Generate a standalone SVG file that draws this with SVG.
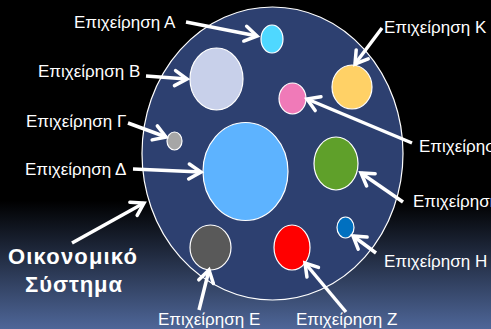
<svg xmlns="http://www.w3.org/2000/svg" width="491" height="329" viewBox="0 0 491 329">
<defs>
<linearGradient id="bg" x1="0" y1="0" x2="0" y2="1">
<stop offset="0" stop-color="#000000"/>
<stop offset="0.61" stop-color="#000000"/>
<stop offset="1" stop-color="#4E6698"/>
</linearGradient>
<marker id="ah" markerUnits="userSpaceOnUse" markerWidth="30" markerHeight="30" refX="0" refY="0" viewBox="-15 -15 30 30" orient="auto">
<path d="M -12 -7.5 L 0 0 L -12 7.5" fill="none" stroke="#ffffff" stroke-width="3.5" stroke-linejoin="miter" stroke-linecap="round"/>
</marker>
<style>
.lbl{font-family:"Liberation Sans",Arial,sans-serif;font-size:17px;fill:#ffffff}
.big{font-family:"Liberation Sans",Arial,sans-serif;font-size:22px;font-weight:bold;fill:#ffffff}
.c{stroke:#ffffff;stroke-width:1.2}
.arr{stroke:#ffffff;stroke-width:3.5;fill:none;marker-end:url(#ah)}
</style>
</defs>
<rect x="0" y="0" width="491" height="329" fill="url(#bg)"/>
<g id="system">
<ellipse cx="272.5" cy="153.5" rx="130.5" ry="146.5" fill="#2D4070" stroke="#ffffff" stroke-width="1.2"/>
<text class="big" x="8" y="264" textLength="129" lengthAdjust="spacing">Οικονομικό</text>
<text class="big" x="25" y="292" textLength="97" lengthAdjust="spacing">Σύστημα</text>
</g>
<g id="nodeA"><ellipse class="c" cx="272" cy="39" rx="11" ry="14" fill="#4FD8FF"/><text class="lbl" x="74" y="28">Επιχείρηση Α</text></g>
<g id="nodeB"><ellipse class="c" cx="216.5" cy="79" rx="26.5" ry="31" fill="#C8D0EA"/><text class="lbl" x="38" y="77">Επιχείρηση Β</text></g>
<g id="nodeG"><ellipse class="c" cx="174.5" cy="141" rx="7.5" ry="9" fill="#A6A6A6"/><text class="lbl" x="26" y="127">Επιχείρηση Γ</text></g>
<g id="nodeD"><ellipse class="c" cx="245.5" cy="171.5" rx="42.5" ry="49" fill="#5DB3FF"/><text class="lbl" x="25" y="175">Επιχείρηση Δ</text></g>
<g id="nodeE"><ellipse class="c" cx="210.5" cy="247.5" rx="20.5" ry="22.5" fill="#595959"/><text class="lbl" x="158" y="325">Επιχείρηση Ε</text></g>
<g id="nodeZ"><ellipse class="c" cx="292" cy="247.5" rx="18" ry="22.5" fill="#FF0000"/><text class="lbl" x="296" y="325">Επιχείρηση Ζ</text></g>
<g id="nodeH"><ellipse class="c" cx="345.5" cy="227.5" rx="8.5" ry="10.5" fill="#0070C0"/><text class="lbl" x="384" y="267">Επιχείρηση Η</text></g>
<g id="nodeTh"><ellipse class="c" cx="292.5" cy="98.5" rx="13.5" ry="15.5" fill="#F07AB8"/><text class="lbl" x="419" y="152">Επιχείρηση Θ</text></g>
<g id="nodeI"><ellipse class="c" cx="336" cy="163.5" rx="22" ry="26.5" fill="#5FA02A"/><text class="lbl" x="413" y="207">Επιχείρηση Ι</text></g>
<g id="nodeK"><ellipse class="c" cx="352" cy="87" rx="20" ry="22" fill="#FFD166"/><text class="lbl" x="384" y="33">Επιχείρηση Κ</text></g>
<g id="connectors">
<line class="arr" x1="186" y1="22" x2="257" y2="36"/>
<line class="arr" x1="146" y1="76" x2="187" y2="79"/>
<line class="arr" x1="128" y1="123" x2="166" y2="137"/>
<line class="arr" x1="133" y1="169" x2="201" y2="172"/>
<line class="arr" x1="72" y1="243" x2="144" y2="203"/>
<line class="arr" x1="382" y1="28" x2="355" y2="64"/>
<line class="arr" x1="412" y1="143" x2="307" y2="99"/>
<line class="arr" x1="403" y1="202" x2="361" y2="173"/>
<line class="arr" x1="376" y1="253" x2="353" y2="236"/>
<line class="arr" x1="346" y1="312" x2="305" y2="263"/>
<line class="arr" x1="199" y1="310" x2="209" y2="270"/>
</g>
</svg>
